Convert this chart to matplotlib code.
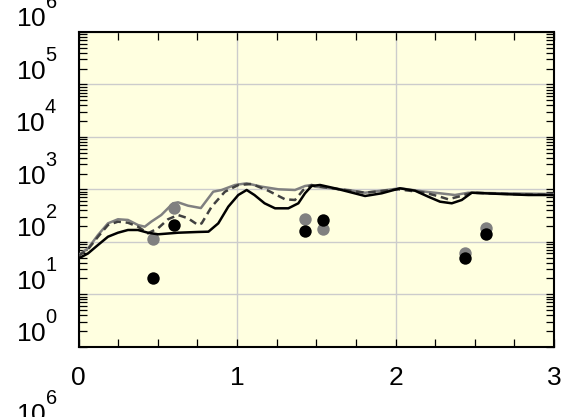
import numpy as np
import matplotlib
matplotlib.use('Agg')
import matplotlib.pyplot as plt
import matplotlib._mathtext as _mt
from matplotlib.ticker import MultipleLocator, LogLocator, FixedLocator, FuncFormatter, NullFormatter, LogFormatterMathtext

plt.rcParams['font.family'] = ['Liberation Sans', 'DejaVu Sans']

# larger, higher superscripts (as in the reference exponent labels)
_mt.SHRINK_FACTOR = 0.76
for _cls in [_mt.FontConstantsBase] + _mt.FontConstantsBase.__subclasses__():
    _cls.sup1 = 1.3

# ---- data ----
t_black = [0, 0.06, 0.123, 0.186, 0.249, 0.312, 0.375, 0.438, 0.502, 0.628,
           0.754, 0.82, 0.882, 0.945, 1.008, 1.061, 1.11, 1.174, 1.24, 1.324,
           1.387, 1.429, 1.471, 1.524, 1.618, 1.702, 1.808, 1.913, 2.028, 2.123,
           2.207, 2.281, 2.355, 2.418, 2.481, 2.67, 2.838, 3.0]
black_line = [48, 60, 87, 125, 149, 168, 168, 149, 139, 149,
              154, 156, 225, 467, 780, 972, 780, 542, 435, 435,
              542, 841, 1159, 1211, 1047, 903, 747, 841, 1047, 943,
              724, 582, 542, 627, 863, 815, 780, 780]

t_gray = [0, 0.06, 0.123, 0.186, 0.249, 0.312, 0.375, 0.418, 0.459, 0.522,
          0.596, 0.628, 0.691, 0.772, 0.85, 0.903, 0.987, 1.061, 1.156,
          1.261, 1.366, 1.429, 1.471, 1.492, 1.702, 1.808, 1.913, 2.028, 2.186,
          2.281, 2.375, 2.459, 2.67, 3.0]
gray_line = [56, 75, 135, 225, 269, 261, 209, 194, 242, 324,
             542, 566, 488, 440, 903, 972, 1211, 1304, 1124,
             1002, 972, 1159, 1211, 1124, 972, 863, 943, 1047, 903,
             841, 780, 863, 841, 815]

t_dash = [0, 0.06, 0.123, 0.186, 0.249, 0.312, 0.375, 0.438, 0.502, 0.565, 0.628,
          0.691, 0.754, 0.777, 0.84, 0.924, 1.008, 1.093, 1.197, 1.303, 1.366,
          1.418, 1.471, 1.492, 1.808, 2.018, 2.186, 2.281, 2.333, 2.396, 2.481,
          2.712, 3.0]
dash_line = [54, 72, 125, 209, 242, 231, 194, 145, 181, 269, 324,
             281, 209, 225, 467, 903, 1211, 1265, 943, 646, 627,
             972, 1211, 1159, 863, 1002, 863, 724, 646, 724, 863,
             815, 780]

pt_x = [0.47, 0.60, 1.43, 1.545, 2.44, 2.57]
gray_pts = [115, 445, 269, 175, 60, 181]
black_pts = [20, 206, 159, 261, 50, 139]

x_ticklabels = ['0', '1', '2', '3']

# ---- figure ----
W, H = 563, 417
fig = plt.figure(figsize=(W / 100, H / 100), dpi=100)
L, R, T, B = 78.5, 554, 32, 346.7
ax = fig.add_axes([L / W, 1 - B / H, (R - L) / W, (B - T) / H])
ax.set_facecolor('#FFFFE0')

ax.scatter(pt_x, gray_pts, s=80, color='#808080', zorder=2, linewidths=0)
ax.scatter(pt_x, black_pts, s=80, color='black', zorder=2.1, linewidths=0)

ax.plot(t_gray, gray_line, color='#808080', lw=1.8, zorder=3)
ax.plot(t_dash, dash_line, color='#404040', lw=1.8, dashes=(3.0, 1.9), zorder=3.1)
ax.plot(t_black, black_line, color='black', lw=1.8, zorder=3.2)

ax.set_yscale('log')
ax.set_xlim(0, 3)
ax.set_ylim(1, 1e6)

ax.xaxis.set_major_locator(FixedLocator([0, 1, 2, 3]))
ax.xaxis.set_major_formatter(FuncFormatter(lambda v, p: x_ticklabels[int(round(v))]))
ax.xaxis.set_minor_locator(MultipleLocator(0.25))
ax.yaxis.set_major_locator(LogLocator(base=10, numticks=20))
ax.yaxis.set_major_formatter(LogFormatterMathtext())
ax.yaxis.set_minor_locator(LogLocator(base=10, subs=np.arange(2, 10), numticks=100))
ax.yaxis.set_minor_formatter(NullFormatter())

ax.grid(True, which='major', color='#cccccc', lw=1.0, zorder=0)
ax.set_axisbelow(True)

ax.tick_params(which='both', direction='in', top=True, right=True,
               length=6, width=0.9, labelsize=19, color='black')
ax.tick_params(axis='x', which='major', pad=14)
ax.tick_params(axis='y', which='major', pad=15)
for s in ax.spines.values():
    s.set_linewidth(1.5)

fig.canvas.draw()
for lab in ax.get_yticklabels():
    lab.set_va('bottom')

# tick label of the panel below (cut off at the bottom edge)
fig.text(58 / W, 1 - 428 / H, LogFormatterMathtext()(1e6), ha='right', va='bottom', fontsize=19)

fig.savefig('out.png', dpi=100)
